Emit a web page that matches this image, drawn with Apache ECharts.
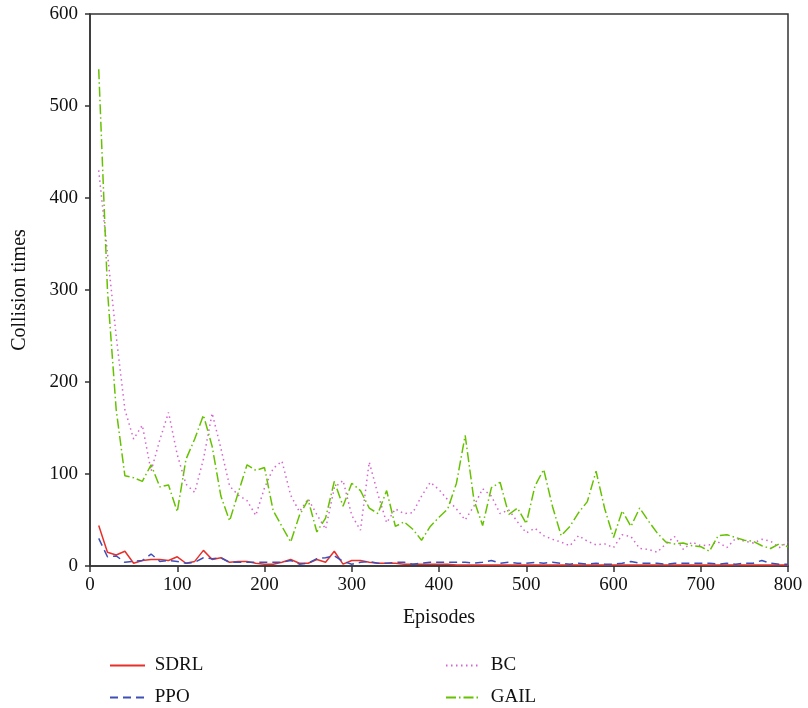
<!DOCTYPE html>
<html>
<head>
<meta charset="utf-8">
<script src="https://cdn.jsdelivr.net/npm/echarts@6/dist/echarts.min.js"></script>
<style>
  html, body { margin: 0; padding: 0; background: #fff; }
  #chart { width: 808px; height: 708px; }
</style>
</head>
<body>
<div id="chart"></div>
<script>
// Episodes sampled every 10 steps
const episodes = [];
for (let e = 10; e <= 800; e += 10) episodes.push(e);

const sdrl = [44, 15, 12, 16, 3, 6, 7, 7, 6, 10,
              3, 5, 17, 7, 9, 4, 5, 5, 3, 2,
              2, 4, 7, 3, 3, 7, 4, 16, 2, 6,
              6, 4, 3, 3, 3, 2, 2, 2, 2, 2,
              2, 1, 1, 1, 1, 1, 1, 1, 1, 1,
              1, 1, 1, 1, 1, 1, 1, 1, 1, 1,
              1, 1, 1, 1, 1, 1, 1, 1, 1, 1,
              1, 1, 1, 1, 1, 1, 1, 1, 1, 1];

const ppo = [30, 10, 11, 4, 5, 6, 13, 5, 6, 5,
             3, 4, 9, 8, 9, 4, 4, 4, 4, 4,
             4, 4, 6, 2, 3, 8, 9, 11, 5, 2,
             4, 5, 3, 3, 4, 4, 2, 3, 4, 4,
             4, 4, 4, 3, 4, 6, 3, 4, 3, 3,
             4, 3, 4, 3, 2, 3, 2, 3, 2, 2,
             3, 5, 3, 3, 3, 2, 3, 3, 3, 3,
             3, 2, 3, 2, 3, 3, 6, 3, 2, 2];

const bc = [430, 340, 250, 170, 138, 153, 103, 137, 167, 121,
            89, 80, 116, 166, 128, 87, 77, 71, 55, 85,
            106, 114, 77, 59, 73, 56, 40, 85, 93, 55,
            39, 113, 78, 47, 62, 57, 58, 76, 91, 83,
            72, 62, 50, 65, 84, 76, 57, 61, 48, 36,
            41, 33, 29, 26, 22, 33, 27, 23, 24, 20,
            34, 32, 19, 18, 15, 24, 32, 18, 26, 22,
            23, 26, 20, 30, 27, 25, 29, 27, 20, 26];

const gail = [540, 300, 170, 98, 96, 92, 110, 86, 88, 59,
              116, 138, 164, 130, 76, 49, 80, 110, 104, 107,
              60, 43, 26, 55, 72, 37, 52, 92, 65, 90,
              82, 63, 57, 82, 43, 48, 40, 28, 43, 53,
              62, 90, 142, 72, 44, 85, 91, 56, 63, 46,
              87, 105, 65, 33, 43, 58, 70, 103, 62, 31,
              60, 43, 63, 49, 36, 26, 24, 25, 22, 21,
              16, 33, 34, 31, 28, 27, 22, 19, 24, 21];

const xTicks = [0, 100, 200, 300, 400, 500, 600, 700, 800];
const yTicks = [0, 100, 200, 300, 400, 500, 600];

const pair = arr => episodes.map((e, i) => [e, arr[i]]);

const FONT = 'Liberation Serif';
const axisColor = '#333';

const chart = echarts.init(document.getElementById('chart'), null, { renderer: 'canvas' });

const lineSeries = (name, data, color, type, width) => ({
  name, type: 'line', data: pair(data), symbol: 'none', showSymbol: false,
  lineStyle: { color, width, type },
  itemStyle: { color },
  emphasis: { disabled: true },
  animation: false
});

// one legend entry per box so each sits in its own slot of the 2x2 key
const legendEntry = (name, left, top) => ({
  data: [name], left, top,
  itemWidth: 35, itemHeight: 14,
  itemStyle: { opacity: 0 },
  formatter: n => ' ' + n,
  textStyle: { fontFamily: FONT, fontSize: 19, color: '#111' },
  selectedMode: false
});

chart.setOption({
  backgroundColor: '#fff',
  animation: false,
  grid: {
    left: 90, right: 20, top: 14, bottom: 142,
    show: true, borderColor: axisColor, borderWidth: 1.5, backgroundColor: 'transparent'
  },
  xAxis: {
    type: 'value', min: xTicks[0], max: xTicks[xTicks.length - 1], interval: 100,
    name: 'Episodes', nameLocation: 'middle', nameGap: 42,
    nameTextStyle: { fontFamily: FONT, fontSize: 20, color: '#111' },
    axisLine: { show: true, lineStyle: { color: axisColor, width: 1.5 } },
    axisTick: { show: true, inside: false, length: 6, lineStyle: { color: axisColor, width: 1.5 } },
    axisLabel: { fontFamily: FONT, fontSize: 19, color: '#111', margin: 10 },
    splitLine: { show: false }
  },
  yAxis: {
    type: 'value', min: yTicks[0], max: yTicks[yTicks.length - 1], interval: 100,
    name: 'Collision times', nameLocation: 'middle', nameGap: 60,
    nameTextStyle: { fontFamily: FONT, fontSize: 20, color: '#111' },
    axisLine: { show: true, lineStyle: { color: axisColor, width: 1.5 } },
    axisTick: { show: true, inside: false, length: 5, lineStyle: { color: axisColor, width: 1.5 } },
    axisLabel: { fontFamily: FONT, fontSize: 19, color: '#111', margin: 12 },
    splitLine: { show: false }
  },
  legend: [
    legendEntry('SDRL', 104, 651),
    legendEntry('PPO', 104, 683),
    legendEntry('BC', 440, 651),
    legendEntry('GAIL', 440, 683)
  ],
  series: [
    lineSeries('SDRL', sdrl, '#e8302a', 'solid', 1.5),
    lineSeries('PPO', ppo, '#3f4fb8', [8, 5], 1.5),
    lineSeries('BC', bc, '#d564cf', [1.5, 3.5], 1.5),
    lineSeries('GAIL', gail, '#66c200', [10, 3, 1.5, 3], 1.5)
  ]
});
</script>
</body>
</html>
